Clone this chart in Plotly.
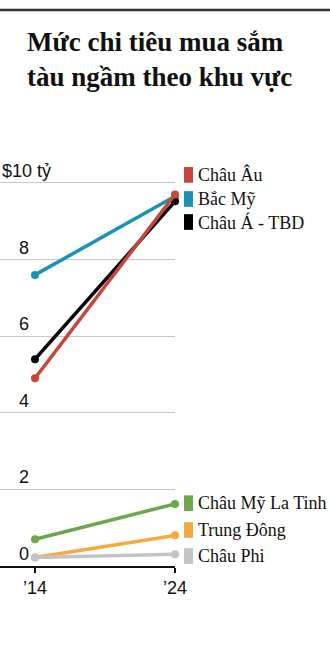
import plotly.graph_objects as go

W, H = 330, 655
ML, MR, MT, MB = 0, 155, 150, 89
PW, PH = W - ML - MR, H - MT - MB

years = [2014, 2024]
year_labels = ["’14", "’24"]
regions = ["Châu Âu", "Bắc Mỹ", "Châu Á - TBD", "Châu Mỹ La Tinh", "Trung Đông", "Châu Phi"]
europe = [4.9, 9.7]
north_america = [7.6, 9.65]
asia_pacific = [5.4, 9.52]
latin_america = [0.7, 1.62]
middle_east = [0.22, 0.8]
africa = [0.22, 0.31]
colors = ["#c9453a", "#1893b5", "#000000", "#6aa84a", "#f6a93f", "#c4c4c4"]
y_ticks = [0, 2, 4, 6, 8, 10]
y_tick_labels = ["0", "2", "4", "6", "8", "$10 tỷ"]
label_y = [10.21, 9.58, 8.98, 1.64, 0.94, 0.26]

series = [europe, north_america, asia_pacific, latin_america, middle_east, africa]

fig = go.Figure()
draw_order = [3, 4, 5, 1, 2, 0]
for i in draw_order:
    fig.add_trace(go.Scatter(
        x=years, y=series[i], mode="lines+markers",
        line=dict(color=colors[i], width=3.5),
        marker=dict(color=colors[i], size=8),
        cliponaxis=False, showlegend=False, hoverinfo="skip"))

def px_x(px):
    return (px - ML) / PW

def px_y(py):
    return (H - MB - py) / PH

annotations = []
shapes = []
# y tick labels above gridlines
for v, t in zip(y_ticks, y_tick_labels):
    if v == 10:
        annotations.append(dict(x=px_x(0), xref="paper", y=v, yref="y", text=t,
                                showarrow=False, xanchor="left", yanchor="bottom", yshift=0,
                                font=dict(family="Liberation Sans", size=18, color="#111")))
    else:
        annotations.append(dict(x=px_x(31), xref="paper", y=v, yref="y", text=t,
                                showarrow=False, xanchor="right", yanchor="bottom", yshift=0,
                                font=dict(family="Liberation Sans", size=18, color="#111")))

# labels with colored squares
for i, name in enumerate(regions):
    shapes.append(dict(type="rect", xref="paper", yref="y",
                       x0=px_x(184), x1=px_x(193), y0=label_y[i] - 0.205, y1=label_y[i] + 0.205,
                       fillcolor=colors[i], line=dict(width=0)))
    annotations.append(dict(x=px_x(196), xref="paper", y=label_y[i], yref="y", text=name,
                            showarrow=False, xanchor="left", yanchor="middle",
                            font=dict(family="Liberation Serif", size=18, color="#111")))

# title
annotations.append(dict(x=px_x(25), xref="paper", y=px_y(59), yref="paper",
                        text="<b>Mức chi tiêu mua sắm<br>tàu ngầm theo khu vực</b>",
                        showarrow=False, xanchor="left", yanchor="middle", align="left",
                        font=dict(family="Liberation Serif", size=27, color="#111")))
# top rule
shapes.append(dict(type="line", xref="paper", yref="paper", x0=px_x(0), x1=px_x(330),
                   y0=px_y(10), y1=px_y(10), line=dict(color="#333", width=2.5)))

fig.update_layout(
    width=W, height=H, margin=dict(l=ML, r=MR, t=MT, b=MB),
    paper_bgcolor="white", plot_bgcolor="white",
    annotations=annotations, shapes=shapes,
    xaxis=dict(range=[2011.5, 2024], tickvals=years, ticktext=year_labels,
               showgrid=False, zeroline=False, showline=True, linecolor="#111", linewidth=1.5,
               ticks="outside", ticklen=5, tickcolor="#111", tickwidth=1.5,
               tickfont=dict(family="Liberation Sans", size=18, color="#111"), fixedrange=True),
    yaxis=dict(range=[0, 10.86], tickvals=y_ticks[1:], showticklabels=False,
               showgrid=True, gridcolor="#c8c8c8", gridwidth=1, zeroline=False,
               showline=False, fixedrange=True),
)

fig.write_html("out.html")
